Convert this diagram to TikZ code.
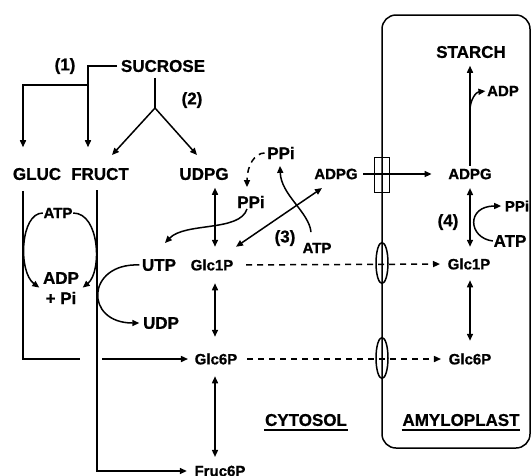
\documentclass[tikz,border=0pt]{standalone}
\usepackage{fontspec}
\setmainfont{Liberation Sans}[BoldFeatures={FakeBold=0.8}]
\usetikzlibrary{arrows.meta}
\usetikzlibrary{shapes.geometric}

\begin{document}
\begin{tikzpicture}[x=1pt,y=-1pt,inner sep=0pt,line width=1.5pt,
  >={Triangle[length=7pt,width=6pt]},
  lbl/.style={font=\bfseries\fontsize{15}{18}\selectfont},
  big/.style={font=\bfseries\fontsize{17}{20}\selectfont},
  dsh/.style={dash pattern=on 6pt off 5pt},
  pore/.style={draw,ellipse,minimum width=12pt,minimum height=41pt},
  carrier/.style={draw,minimum width=15pt,minimum height=35pt}]
\useasboundingbox (0,0) rectangle (532,475);

% cytosol
\node[big] (suc) at (163,66) {SUCROSE};
\node[big] (r1) at (65,66) {(1)};
\node[big] (r2) at (192,100) {(2)};
\node[big] (gluc) at (37,174) {GLUC};
\node[big] (fruct) at (100,174) {FRUCT};
\node[big] (udpg) at (204,174) {UDPG};
\node[lbl] (atp1) at (58,213) {ATP};
\node[big] (adp1) at (61,278) {ADP};
\node[big] (pi1) at (61,298) {+ Pi};
\node[big] (utp) at (159,265) {UTP};
\node[big] (udp) at (161,323) {UDP};
\node[lbl] (glc1p) at (212,265) {Glc1P};
\node[lbl] (glc6p) at (216,359) {Glc6P};
\node[lbl] (fruc6p) at (220,471) {Fruc6P};
\node[big] (ppi1) at (251,202) {PPi};
\node[big] (ppi2) at (281,153) {PPi};
\node[lbl] (adpg1) at (336,174) {ADPG};
\node[big] (r3) at (285,238) {(3)};
\node[lbl] (atp3) at (317,248) {ATP};
\node[big] (cyt) at (306,420) {CYTOSOL};

% amyloplast
\draw[rounded corners=14pt] (382,15) rectangle (530,448);
\node[carrier] (tp) at (382,175) {};
\node[pore] (pore1) at (382,263) {};
\node[pore] (pore2) at (382,358) {};
\node[big] (starch) at (471,52) {STARCH};
\node[lbl] (adp2) at (503,91) {ADP};
\node[lbl] (adpg2) at (470,174) {ADPG};
\node[lbl] (ppi3) at (517,206) {PPi};
\node[big] (atp4) at (510,241) {ATP};
\node[big] (r4) at (448,222) {(4)};
\node[lbl] (glc1p2) at (469,264) {Glc1P};
\node[lbl] (glc6p2) at (470,359) {Glc6P};
\node[big] (amy) at (461,420) {AMYLOPLAST};

\draw ([yshift=-3pt]cyt.south west) -- ([yshift=-3pt]cyt.south east);
\draw ([yshift=-3pt]amy.south west) -- ([yshift=-3pt]amy.south east);

% sucrose splitting
\coordinate (s1) at (88,66);
\coordinate (s2) at (88,85);
\coordinate (s3) at (23,85);
\coordinate (fk) at (155,108);
\coordinate (t1) at (112,155);
\coordinate (t2) at (197,155);
\draw[->,shorten <=3pt,shorten >=20pt] (suc.west) -- (s1) -- (s1 |- fruct.north);
\draw[->,shorten >=20pt] (s2) -- (s3) -- (s3 |- gluc.north);
\draw[shorten <=5pt] (suc.south -| fk) -- (fk);
\draw[->] (fk) -- (t1);
\draw[->] (fk) -- (t2);

% hexose phosphorylation
\coordinate (g1) at (23,359);
\coordinate (g2) at (80,359);
\coordinate (g3) at (102,359);
\coordinate (f1) at (97,174);
\coordinate (f2) at (97,471);
\draw[shorten <=10pt] (gluc.south -| g1) -- (g1) -- (g2);
\draw[->,shorten >=6pt] (g3) -- (glc6p.west);
\draw[->,shorten <=16pt,shorten >=7pt] (f1) -- (f2) -- (fruc6p.west);
\draw[->] (atp1.west) .. controls (20,213) and (18,272) .. ([xshift=-3pt,yshift=-3pt]adp1.south west);
\draw[->] (atp1.east) .. controls (100,213) and (102,272) .. ([xshift=3pt,yshift=-3pt]adp1.south east);

% UDPG pyrophosphorylase
\coordinate (ut) at (165,243);
\draw[->,shorten <=2pt,shorten >=3pt] (utp.west) .. controls (86,263) and (84,323) .. (udp.west);
\draw[->] ([xshift=-4pt]ppi1.south) .. controls (240,232) and (185,222) .. (ut);
\draw[->,dsh,shorten <=2pt] (ppi2.west) .. controls (255,153) and (247,165) .. ([xshift=-4pt,yshift=8pt]ppi1.north);
\draw[<->] ([xshift=11pt,yshift=-7pt]udpg.south) -- ([xshift=3pt,yshift=12pt]glc1p.north);
\draw[<->] ([xshift=3pt,yshift=-12pt]glc1p.south) -- ([xshift=-1pt,yshift=16pt]glc6p.north);
\draw[<->] ([xshift=-1pt,yshift=-11pt]glc6p.south) -- ([xshift=-5pt,yshift=8pt]fruc6p.north);

% cytosolic AGPase
\draw[<->] ([xshift=-14pt,yshift=-8pt]adpg1.south) -- ([xshift=2pt,yshift=12pt]glc1p.north east);
\draw[->] ([xshift=-6pt,yshift=10pt]atp3.north) .. controls (309,212) and (281,195) .. ([xshift=-1pt,yshift=-6pt]ppi2.south);

% transport
\draw[->,shorten <=5pt,shorten >=16pt] (adpg1.east) -- (adpg2.west);
\draw[->,dsh,shorten <=12pt,shorten >=7pt] (glc1p.east) -- (glc1p2.west);
\draw[->,dsh,shorten <=9pt,shorten >=7pt] (glc6p.east) -- (glc6p2.west);

% plastidial reactions
\coordinate (br) at (470,110);
\draw[->,shorten <=2pt,shorten >=7pt] (adpg2.north) -- (adpg2.north |- starch.south);
\draw[->,shorten >=1pt] (br) .. controls (470,100) and (476,92) .. (adp2.west);
\draw[<->,shorten <=8pt,shorten >=11pt] (adpg2.south) -- (adpg2.south |- glc1p2.north);
\draw[->,shorten >=3pt] (atp4.west) .. controls (468,238) and (466,206) .. (ppi3.west);
\draw[<->,shorten <=10pt,shorten >=12pt] ([xshift=1pt]glc1p2.south) -- ([xshift=1pt]glc1p2.south |- glc6p2.north);
\end{tikzpicture}
\end{document}
